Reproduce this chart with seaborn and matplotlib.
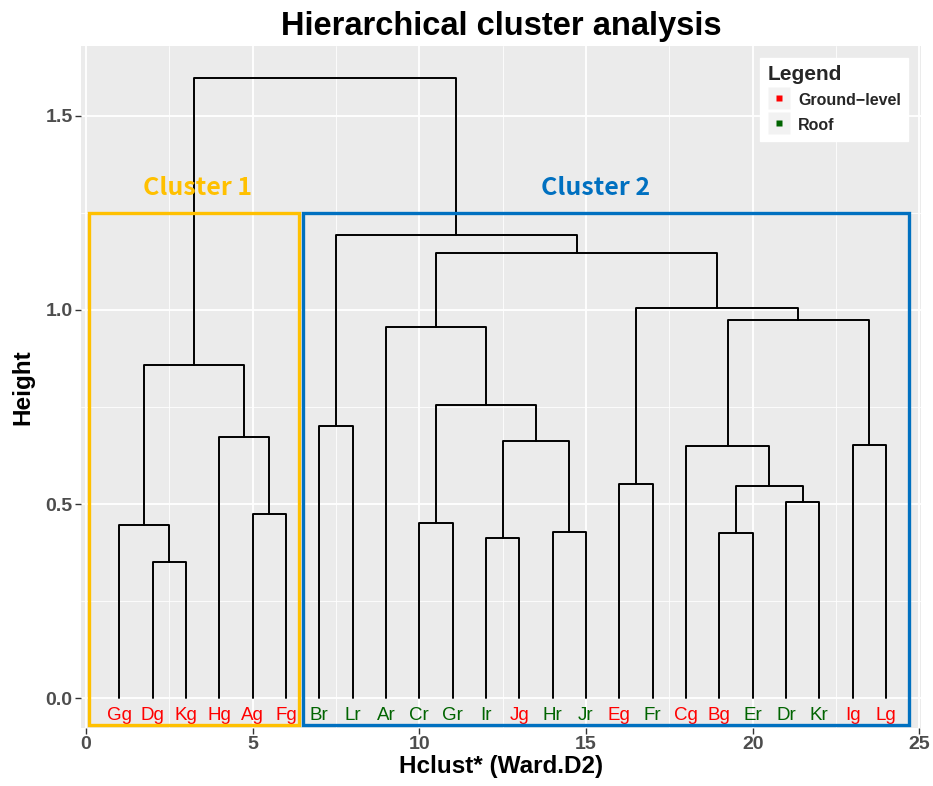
import matplotlib
matplotlib.use("Agg")
import matplotlib.pyplot as plt
from matplotlib.lines import Line2D
from matplotlib.patches import Rectangle
from matplotlib.legend_handler import HandlerTuple
import numpy as np
import pandas as pd
import seaborn as sns

# Leaf order along the x axis and sampling type (g = ground-level, r = roof)
leaves = ["Gg", "Dg", "Kg", "Hg", "Ag", "Fg",
          "Br", "Lr", "Ar", "Cr", "Gr", "Ir", "Jg", "Hr", "Jr",
          "Eg", "Fr", "Cg", "Bg", "Er", "Dr", "Kr", "Ig", "Lg"]
site_type = ["Ground-level" if s.endswith("g") else "Roof" for s in leaves]

# Merge steps: (left child, right child, height); ints refer to earlier merges
merges = [
    ("Dg", "Kg", 0.351),   # 0
    ("Gg", 0, 0.446),      # 1
    ("Ag", "Fg", 0.474),   # 2
    ("Hg", 2, 0.673),      # 3
    (1, 3, 0.858),         # 4
    ("Br", "Lr", 0.701),   # 5
    ("Cr", "Gr", 0.451),   # 6
    ("Ir", "Jg", 0.412),   # 7
    ("Hr", "Jr", 0.428),   # 8
    (7, 8, 0.662),         # 9
    (6, 9, 0.755),         # 10
    ("Ar", 10, 0.956),     # 11
    ("Eg", "Fr", 0.552),   # 12
    ("Bg", "Er", 0.425),   # 13
    ("Dr", "Kr", 0.505),   # 14
    (13, 14, 0.546),       # 15
    ("Cg", 15, 0.649),     # 16
    ("Ig", "Lg", 0.652),   # 17
    (16, 17, 0.974),       # 18
    (12, 18, 1.005),       # 19
    (11, 19, 1.147),       # 20
    (5, 20, 1.193),        # 21
    (4, 21, 1.598),        # 22
]

# Cluster boxes: (label, first leaf, last leaf, colour)
clusters = [("Cluster 1", "Gg", "Fg", "#FFC000"),
            ("Cluster 2", "Br", "Lg", "#0070C0")]

type_colors = {"Ground-level": "#FF0000", "Roof": "#006400"}

# ---- dendrogram segment coordinates ----
pos = {name: i + 1 for i, name in enumerate(leaves)}
node_xy = []
rows = []
for k, (a, b, h) in enumerate(merges):
    def loc(c):
        return (pos[c], 0.0) if isinstance(c, str) else node_xy[c]
    xa, ha = loc(a)
    xb, hb = loc(b)
    for order, (x, y) in enumerate([(xa, ha), (xa, h), (xb, h), (xb, hb)]):
        rows.append({"seg": k, "order": order, "x": x, "y": y})
    node_xy.append(((xa + xb) / 2, h))
seg_df = pd.DataFrame(rows)

# ---- style ----
sns.set_theme(style="darkgrid", rc={
    "axes.facecolor": "#EBEBEB",
    "grid.color": "white",
    "axes.edgecolor": "none",
})
plt.rcParams["font.family"] = ["Liberation Sans", "DejaVu Sans"]

fig = plt.figure(figsize=(9.33, 7.86), dpi=100)
ax = fig.add_axes([81 / 933, 1 - 728 / 786, 840 / 933, 682 / 786])

sns.lineplot(data=seg_df, x="x", y="y", units="seg", estimator=None,
             sort=False, color="black", linewidth=1.4, ax=ax, legend=False)

ax.set_xlim(-0.15, 25.05)
ax.set_ylim(-0.077, 1.68)
ax.set_xticks(np.arange(0, 26, 5))
ax.set_yticks([0.0, 0.5, 1.0, 1.5])
ax.set_yticklabels(["0.0", "0.5", "1.0", "1.5"])
ax.set_xticks(np.arange(2.5, 25, 5), minor=True)
ax.set_yticks([0.25, 0.75, 1.25], minor=True)
ax.grid(which="major", color="white", linewidth=1.3)
ax.grid(which="minor", color="white", linewidth=0.6)
ax.tick_params(which="major", length=4, width=1.0, color="#333333",
               labelsize=14, labelcolor="#4D4D4D", pad=2, bottom=True, left=True)
ax.tick_params(which="minor", length=0)
for lab in ax.get_xticklabels() + ax.get_yticklabels():
    lab.set_fontweight("bold")
for s in ax.spines.values():
    s.set_visible(False)

# leaf labels
for name, t in zip(leaves, site_type):
    ax.text(pos[name], -0.045, name, color=type_colors[t], ha="center",
            va="center", fontsize=13.5)

# cluster rectangles and titles
for label, first, last, col in clusters:
    x0 = pos[first] - 0.9 if first == leaves[0] else pos[first] - 0.5
    x1 = pos[last] + 0.7 if last == leaves[-1] else pos[last] + 0.4
    ax.add_patch(Rectangle((x0, -0.07), x1 - x0, 1.32, fill=False,
                           edgecolor=col, linewidth=2.4, zorder=3))
    ax.text((x0 + x1) / 2 + 0.1 if label == "Cluster 1" else 15.3, 1.315, label,
            color=col, ha="center", va="center", fontsize=18, fontweight="bold",
            family=["Noto Sans CJK KR", "DejaVu Sans"])

# titles
ax.set_title("Hierarchical cluster analysis", fontsize=23.5, fontweight="bold",
             pad=8, color="black")
ax.set_xlabel("Hclust* (Ward.D2)", fontsize=17.5, fontweight="bold", labelpad=1,
              color="black")
ax.set_ylabel("Height", fontsize=17.5, fontweight="bold", labelpad=8, color="black")

# legend with ggplot-like grey key boxes
handles = []
for t in ["Ground-level", "Roof"]:
    bg = Line2D([], [], marker="s", linestyle="none", markersize=16.5,
                markerfacecolor="#F2F2F2", markeredgecolor="none")
    fg = Line2D([], [], marker="s", linestyle="none", markersize=5,
                markerfacecolor=type_colors[t], markeredgecolor="none")
    handles.append((bg, fg))
leg = ax.legend(handles, ["Ground\u2212level", "Roof"], title="Legend",
                handler_map={tuple: HandlerTuple(ndivide=1)},
                loc="upper right", bbox_to_anchor=(0.9845, 0.9824),
                borderaxespad=0, frameon=True, fancybox=False,
                facecolor="white", edgecolor="white", framealpha=1,
                prop={"size": 11.5, "weight": "bold"},
                title_fontproperties={"size": 15, "weight": "bold"},
                handlelength=1.4, handleheight=1.4, handletextpad=0.5,
                labelspacing=0.4, borderpad=0.45)
leg._legend_box.align = "left"

fig.savefig("out.png", dpi=100)
